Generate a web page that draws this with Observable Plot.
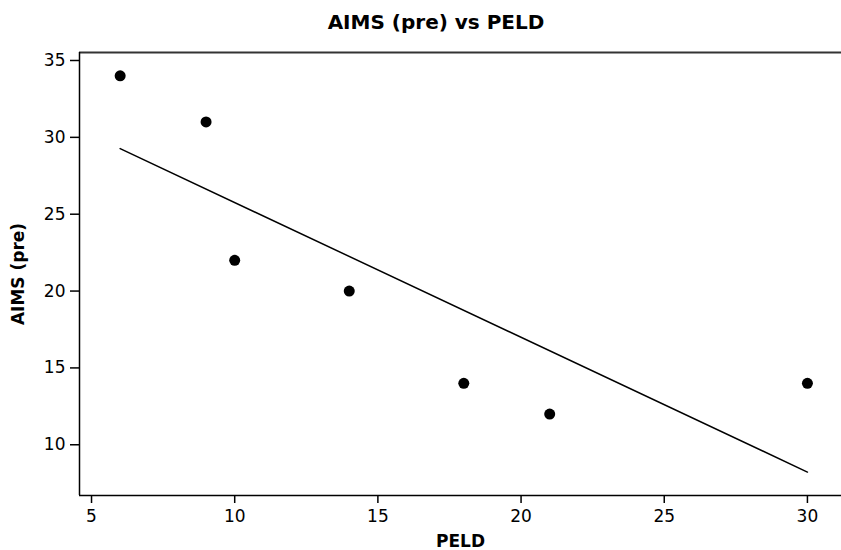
<!DOCTYPE html>
<html>
<head>
<meta charset="utf-8">
<script src="https://cdn.jsdelivr.net/npm/d3@7"></script>
<script src="https://cdn.jsdelivr.net/npm/@observablehq/plot@0.6"></script>
<style>
  body { margin: 0; background: #fff; }
  #title { height: 40px; width: 841px; box-sizing: border-box; padding-left: 31px; padding-top: 10px; text-align: center;
    font: bold 20px "DejaVu Sans", sans-serif; line-height: 24px; color: #000; }
  svg { display: block; }
  g[aria-label$="tick label"] text { font-size: 17px !important; font-family: "DejaVu Sans", sans-serif !important; }
</style>
</head>
<body>
<div id="title">AIMS (pre) vs PELD</div>
<div id="chart"></div>
<script>
const peld = [6, 9, 10, 14, 18, 21, 30];
const aims = [34, 31, 22, 20, 14, 12, 14];
const xTicks = [5, 10, 15, 20, 25, 30];
const yTicks = [10, 15, 20, 25, 30, 35];
const xDomain = [4.58, 31.19];
const yDomain = [6.7, 35.52];

const data = peld.map((x, i) => ({x, y: aims[i]}));
const font = '"DejaVu Sans", sans-serif';

const chart = Plot.plot({
  width: 841,
  height: 510,
  marginTop: 12,
  marginLeft: 79,
  marginRight: 0,
  marginBottom: 55,
  style: {fontFamily: font, fontSize: "16px", color: "#000", background: "#fff"},
  x: {domain: xDomain},
  y: {domain: yDomain},
  marks: [
    Plot.ruleY([yDomain[1]], {stroke: "#333", strokeWidth: 2}),
    Plot.ruleY([yDomain[0]], {stroke: "#000", strokeWidth: 1.5}),
    Plot.ruleX([xDomain[0]], {stroke: "#000", strokeWidth: 1.5}),
    Plot.axisX({ticks: xTicks, tickSize: 8, tickPadding: 6, strokeWidth: 1.5, label: null}),
    Plot.axisY({ticks: yTicks, tickSize: 9, tickPadding: 5, strokeWidth: 1.5, label: null}),
    Plot.text(["PELD"], {frameAnchor: "bottom", dy: 46, fontSize: 17, fontWeight: "bold", lineAnchor: "middle", textAnchor: "middle"}),
    Plot.text(["AIMS (pre)"], {frameAnchor: "left", dx: -61, rotate: -90, fontSize: 17, fontWeight: "bold", textAnchor: "middle", lineAnchor: "middle"}),
    Plot.linearRegressionY(data, {x: "x", y: "y", ci: 0, stroke: "#000", strokeWidth: 1.5}),
    Plot.dot(data, {x: "x", y: "y", r: 5.5, fill: "#000", stroke: "none"})
  ]
});
document.getElementById("chart").appendChild(chart);
</script>
</body>
</html>
